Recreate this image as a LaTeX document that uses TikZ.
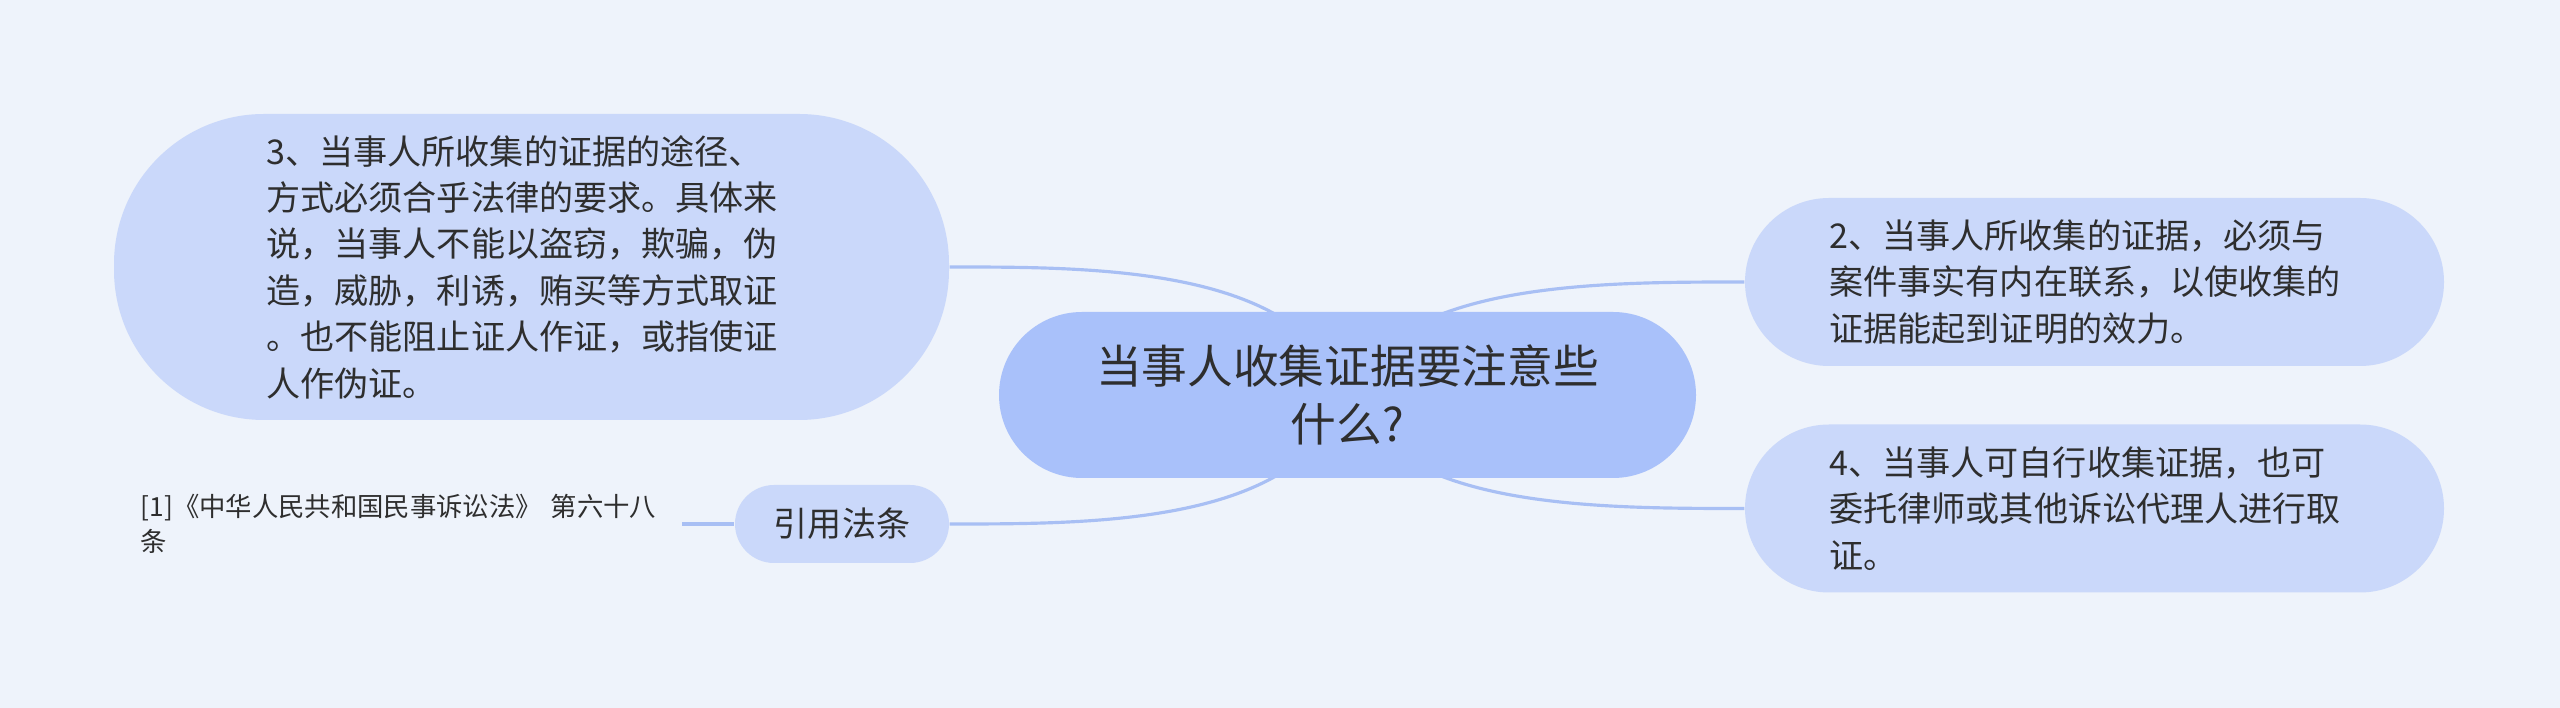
\documentclass[tikz,border=0pt]{standalone}
\usepackage{fontspec}
\setmainfont{Noto Sans CJK SC}
\usepackage{xcolor}
\usetikzlibrary{positioning, backgrounds}

\definecolor{bgpaper}{HTML}{EEF3FB}
\definecolor{rootblue}{HTML}{A9C1FA}
\definecolor{topicblue}{HTML}{CAD8FA}
\definecolor{linkblue}{HTML}{A8BFF4}
\definecolor{inkgray}{HTML}{2E2E2E}

\begin{document}
\begin{tikzpicture}[
    root/.style={rectangle, fill=rootblue, text=inkgray, align=center, inner sep=0pt, minimum width=6.97cm, minimum height=1.66cm, rounded corners=0.83cm, font=\fontsize{13}{16.5}\selectfont},
    topic/.style={rectangle, fill=topicblue, text=inkgray, text width=5.3cm, align=left, inner sep=0pt, minimum width=6.99cm, minimum height=1.68cm, rounded corners=0.84cm, font=\fontsize{9.7}{13.2}\selectfont},
    refbox/.style={rectangle, fill=topicblue, text=inkgray, inner sep=0pt, minimum width=2.14cm, minimum height=0.78cm, rounded corners=0.39cm, font=\fontsize{9.7}{12}\selectfont},
    cite/.style={text=inkgray, text width=5.3cm, align=left, inner xsep=0.11cm, inner ysep=0pt, font=\fontsize{7.5}{9.8}\selectfont},
    link/.style={draw=linkblue, line width=0.9pt}
]

% Canvas
\useasboundingbox (0,0) rectangle (25.6,-7.08);
\begin{scope}[on background layer]
\fill[bgpaper] (0,0) rectangle (25.6,-7.08);
\end{scope}

% Central topic
\node[root] (center) at (13.475,-3.95) {当事人收集证据要注意些\\什么?};

% Left branch
\node[topic, minimum width=8.35cm, minimum height=3.06cm, rounded corners=1.5cm] (way) at (5.315,-2.67) {3、当事人所收集的证据的途径、\\方式必须合乎法律的要求。具体来\\说，当事人不能以盗窃，欺骗，伪\\造，威胁，利诱，贿买等方式取证\\。也不能阻止证人作证，或指使证\\人作伪证。};
\node[refbox] (law) at (8.42,-5.24) {引用法条};
\node[cite, left=0.52cm of law] (source) {[1]《中华人民共和国民事诉讼法》 第六十八\\条};

% Right branch
\node[topic] (link) at (20.945,-2.82) {2、当事人所收集的证据，必须与\\案件事实有内在联系，以使收集的\\证据能起到证明的效力。};
\node[topic] (self) at (20.945,-5.085) {4、当事人可自行收集证据，也可\\委托律师或其他诉讼代理人进行取\\证。};

% Connectors
\begin{scope}[on background layer]
\draw[link] (center.center) .. controls (13.0,-2.67) and (11.0,-2.67) .. (way.east);
\draw[link] (center.center) .. controls (13.0,-5.24) and (11.0,-5.24) .. (law.east);
\draw[link] (center.center) .. controls (13.95,-2.82) and (15.94,-2.82) .. (link.west);
\draw[link] (center.center) .. controls (13.95,-5.085) and (15.94,-5.085) .. (self.west);
\draw[link] (source.east) -- (law.west);
\end{scope}

\end{tikzpicture}
\end{document}
